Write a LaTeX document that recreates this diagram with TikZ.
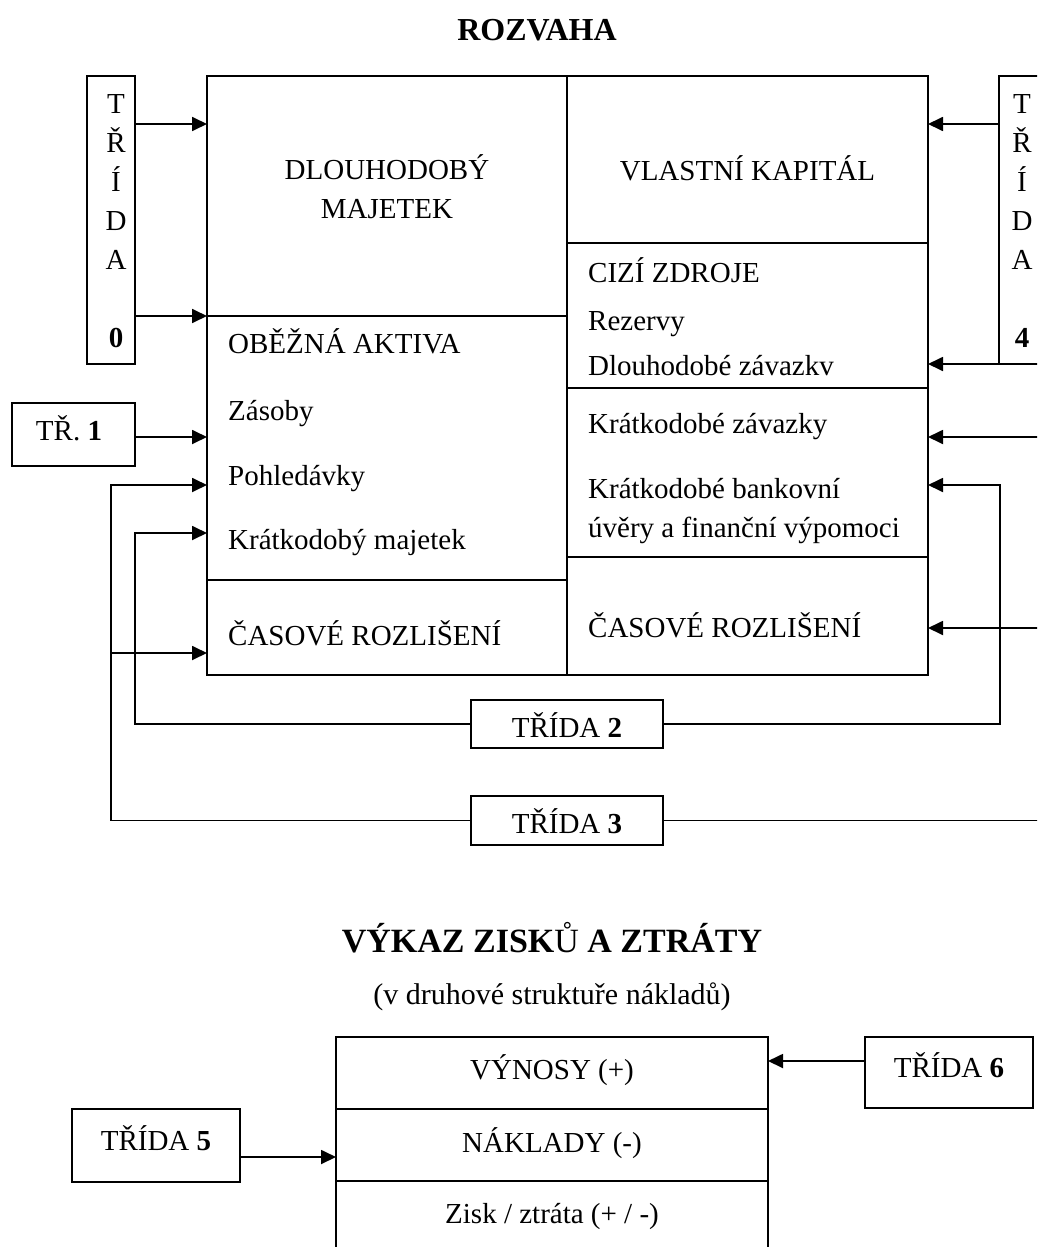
\documentclass[tikz,border=0pt]{standalone}
\usepackage{fontspec}
\setmainfont{Liberation Serif}
\usetikzlibrary{arrows.meta}
\begin{document}
\begin{tikzpicture}[x=1pt,y=-1pt,
  box/.style={draw, line width=2pt, inner sep=0pt, outer sep=0pt},
  lbl/.style={inner sep=0pt, font=\fontsize{29}{35}\selectfont},
  conn/.style={line width=1.8pt},
  arr/.style={line width=1.8pt, -{Triangle[length=15pt,width=14pt]}},
]
\useasboundingbox (0,0) rectangle (1037,1247);
\clip (0,0) rectangle (1037,1247);

% ---------- ROZVAHA ----------
\node[anchor=base, inner sep=0pt, font=\fontsize{32}{38}\selectfont\bfseries] (title1) at (537,41) {ROZVAHA};

% main balance sheet cells
\node[box, minimum width=360pt, minimum height=240pt] (dm) at (387,196) {};
\node[box, minimum width=360pt, minimum height=264pt] (oa) at (387,448) {};
\node[box, minimum width=360pt, minimum height=95pt] (crL) at (387,627.5) {};
\node[box, minimum width=361pt, minimum height=167pt] (vk) at (747.5,159.5) {};
\node[box, minimum width=361pt, minimum height=145pt] (cz) at (747.5,315.5) {};
\node[box, minimum width=361pt, minimum height=169pt] (kz) at (747.5,472.5) {};
\node[box, minimum width=361pt, minimum height=118pt] (crR) at (747.5,616) {};

% class boxes
\node[box, minimum width=48pt, minimum height=288pt] (t0) at (111,220) {};
\node[box, minimum width=48pt, minimum height=288pt] (t4) at (1023,220) {};
\node[box, minimum width=123pt, minimum height=63pt] (t1) at (73.5,434.5) {};
\node[box, minimum width=192pt, minimum height=48pt] (t2) at (567,724) {};
\node[box, minimum width=192pt, minimum height=49pt] (t3) at (567,820.5) {};

% texts in cells
\node[lbl, anchor=base] (tdm1) at (387,179) {DLOUHODOBÝ};
\node[lbl, anchor=base] (tdm2) at (387,218) {MAJETEK};
\node[lbl, anchor=base west] (toa) at (228,353) {OBĚŽNÁ AKTIVA};
\node[lbl, anchor=base west] (tzas) at (228,420) {Zásoby};
\node[lbl, anchor=base west] (tpoh) at (228,485) {Pohledávky};
\node[lbl, anchor=base west] (tkm) at (228,549) {Krátkodobý majetek};
\node[lbl, anchor=base west] (tcrl) at (228,645) {ČASOVÉ ROZLIŠENÍ};
\node[lbl, anchor=base] (tvk) at (747.5,180) {VLASTNÍ KAPITÁL};
\node[lbl, anchor=base west] (tcz) at (588,282) {CIZÍ ZDROJE};
\node[lbl, anchor=base west] (trez) at (588,330) {Rezervy};
\node[lbl, anchor=base west] (tdz) at (588,375) {Dlouhodobé závazkv};
\node[lbl, anchor=base west] (tkz) at (588,433) {Krátkodobé závazky};
\node[lbl, anchor=base west] (tkb1) at (588,498) {Krátkodobé bankovní};
\node[lbl, anchor=base west] (tkb2) at (588,537) {úvěry a finanční výpomoci};
\node[lbl, anchor=base west] (tcrr) at (588,637) {ČASOVÉ ROZLIŠENÍ};

% texts in class boxes
\foreach \l/\yy [count=\i] in {T/113, Ř/152, Í/191, D/230, A/269} {
  \node[lbl, anchor=base] (tz\i) at (116,\yy) {\l};
  \node[lbl, anchor=base] (tc\i) at (1022,\yy) {\l};
}
\node[lbl, anchor=base] (tzn) at (116,347) {\textbf{0}};
\node[lbl, anchor=base] (tcn) at (1022,347) {\textbf{4}};
\node[lbl, anchor=base] (tt1) at (69,440) {TŘ. \textbf{1}};
\node[lbl, anchor=base] (tt2) at (567,737) {TŘÍDA \textbf{2}};
\node[lbl, anchor=base] (tt3) at (567,833) {TŘÍDA \textbf{3}};

% rails and corners
\coordinate (ra) at (0,124);
\coordinate (rb) at (0,316);
\coordinate (rd) at (0,437);
\coordinate (k3) at (111,485);
\coordinate (k3b) at (111,653);
\coordinate (k2) at (135,533);
\coordinate (k2r) at (1000,485);
\coordinate (e1) at (1050,437);
\coordinate (e2) at (1050,628);
\coordinate (e3) at (1050,820);

% connectors
\draw[arr] (t0.east |- ra) -- (dm.west |- ra);
\draw[arr] (t0.east |- rb) -- (oa.north west);
\draw[arr] (t4.west |- ra) -- (vk.east |- ra);
\draw[arr] (t4.south west) -- (cz.east |- t4.south west);
\draw[arr] (t1.east |- rd) -- (oa.west |- rd);
\draw[arr] (t3.west) -| (k3) -- (oa.west |- k3);
\draw[arr] (k3b) -- (crL.west |- k3b);
\draw[conn] (t3.east) -- (t3.east -| e3);
\draw[arr] (t2.west) -| (k2) -- (oa.west |- k2);
\draw[arr] (t2.east) -| (k2r) -- (kz.east |- k2r);
\draw[arr] (e1) -- (kz.east |- e1);
\draw[arr] (e2) -- (crR.east |- e2);

% ---------- VÝKAZ ZISKŮ A ZTRÁTY ----------
\node[anchor=base, inner sep=0pt, font=\fontsize{34}{41}\selectfont\bfseries] (title2) at (552,952) {VÝKAZ ZISK{\mdseries Ů} A ZTRÁTY};
\node[anchor=base, inner sep=0pt, font=\fontsize{30}{36}\selectfont] (sub) at (552,1004) {(v druhové struktuře nákladů)};

\node[box, minimum width=432pt, minimum height=72pt] (vy) at (552,1073) {};
\node[box, minimum width=432pt, minimum height=72pt] (na) at (552,1145) {};
\node[box, minimum width=432pt, minimum height=89pt] (zi) at (552,1225.5) {};
\node[box, minimum width=168pt, minimum height=71pt] (t6) at (949,1072.5) {};
\node[box, minimum width=168pt, minimum height=73pt] (t5) at (156,1145.5) {};

\node[lbl, anchor=base] (tvy) at (552,1079) {VÝNOSY (+)};
\node[lbl, anchor=base] (tna) at (552,1152) {NÁKLADY (-)};
\node[lbl, anchor=base] (tzi) at (552,1223) {Zisk / ztráta (+ / -)};
\node[lbl, anchor=base] (tt6) at (949,1077) {TŘÍDA \textbf{6}};
\node[lbl, anchor=base] (tt5) at (156,1150) {TŘÍDA \textbf{5}};

\coordinate (rv) at (0,1061);
\coordinate (rn) at (0,1157);
\draw[arr] (t6.west |- rv) -- (vy.east |- rv);
\draw[arr] (t5.east |- rn) -- (na.west |- rn);
\end{tikzpicture}
\end{document}
